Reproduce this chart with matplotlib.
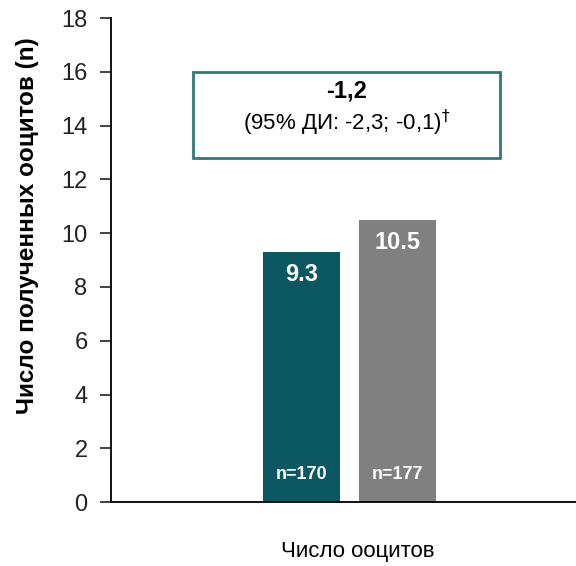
import matplotlib
matplotlib.use("Agg")
from matplotlib import pyplot as plt
from matplotlib.patches import Rectangle

plt.rcParams['font.family'] = ['Liberation Sans', 'DejaVu Sans']

# data
groups = ['A', 'B']
values = [9.3, 10.5]
n_labels = ['n=170', 'n=177']
colors = ['#0b5862', '#808080']
yticks = [0, 2, 4, 6, 8, 10, 12, 14, 16, 18]
diff_text = '-1,2'
ci_text = '(95% ДИ: -2,3; -0,1)$^{\\dagger}$'

fig = plt.figure(figsize=(5.76, 5.66), dpi=100)
ax = fig.add_axes([0.193, 0.113, 0.807, 0.855])

x = range(len(groups))
bars = ax.bar(x, values, width=0.8, color=colors, edgecolor='none')

for xi, v, n in zip(x, values, n_labels):
    ax.text(xi, v - 0.4, f'{v}', ha='center', va='top', color='white',
            fontsize=17, fontweight='bold')
    ax.text(xi, 0.7, n, ha='center', va='bottom', color='white',
            fontsize=13, fontweight='bold')

# annotation box with difference
box = Rectangle((-1.13, 12.8), 3.2, 3.2, facecolor='white', edgecolor='#2e7a7a', lw=2)
ax.add_patch(box)
ax.text(0.47, 15.3, diff_text, ha='center', va='center', fontsize=17, fontweight='bold')
ax.text(0.47, 14.1, ci_text, ha='center', va='center', fontsize=16)

ax.set_xlim(-1.984, 2.86)
ax.set_ylim(0, 18)
ax.set_yticks(yticks)
ax.set_xticks([])
ax.tick_params(axis='y', labelsize=17, length=8, width=1.2, direction='out', pad=9, colors='#222222')
for s in ['top', 'right']:
    ax.spines[s].set_visible(False)
ax.spines['left'].set_linewidth(1.3)
ax.spines['bottom'].set_linewidth(1.3)
ax.set_ylabel('Число полученных ооцитов (n)', fontsize=17.5, fontweight='bold')
ax.yaxis.set_label_coords(-0.155, 0.572)

fig.text(358 / 576, 1 - 551 / 566, 'Число ооцитов', ha='center', va='center', fontsize=16)

plt.savefig('out.png', dpi=100)
